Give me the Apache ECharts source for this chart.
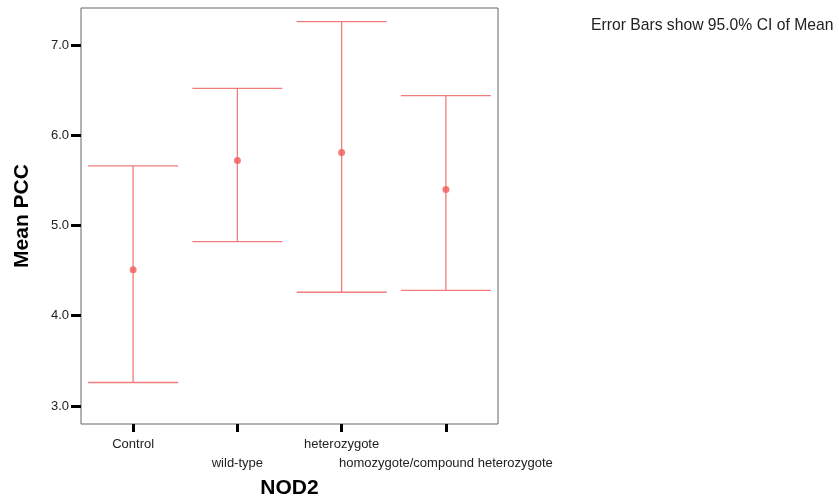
<!DOCTYPE html>
<html>
<head>
<meta charset="utf-8">
<script src="https://cdn.jsdelivr.net/npm/echarts@6/dist/echarts.min.js"></script>
<style>
  html, body { margin: 0; padding: 0; background: #fff; }
  #main { width: 839px; height: 502px; }
</style>
</head>
<body>
<div id="main"></div>
<script>
// groups of NOD2 genotype
var groups = ["Control", "wild-type", "heterozygote", "homozygote/compound heterozygote"];
// mean PCC and 95% CI bounds
var means = [4.51, 5.72, 5.81, 5.40];
var lower = [3.26, 4.82, 4.26, 4.28];
var upper = [5.66, 6.52, 7.26, 6.44];
var yTicks = [3.0, 4.0, 5.0, 6.0, 7.0];

var barColor = "#f07c7c";
var font = "Liberation Sans, Arial, sans-serif";
var chart = echarts.init(document.getElementById("main"));

var ciData = groups.map(function (g, i) { return [i, lower[i], upper[i]]; });
var meanData = groups.map(function (g, i) { return [i, means[i]]; });

var option = {
    animation: false,
    grid: {
        left: 81, right: 341, top: 8, bottom: 78,
        outerBoundsMode: "none",
        show: true, borderColor: "#666", borderWidth: 1
    },
    graphic: [{
        type: "text", left: 591, top: 18,
        style: { text: "Error Bars show 95.0% CI of Mean", fontSize: 15.7, fill: "#222", fontFamily: font }
    }],
    xAxis: {
        type: "category",
        data: groups,
        name: "NOD2",
        nameLocation: "middle",
        nameGap: 50,
        nameTextStyle: { fontSize: 21, fontWeight: "bold", color: "#000", fontFamily: font },
        axisLine: { show: false },
        axisTick: { show: true, alignWithLabel: true, length: 8, lineStyle: { color: "#000", width: 3 } },
        axisLabel: {
            interval: 0, margin: 11, fontSize: 13, color: "#222", lineHeight: 19,
            fontFamily: font,
            formatter: function (v, i) { return i % 2 ? "\n" + v : v; }
        },
        splitLine: { show: false }
    },
    yAxis: {
        type: "value",
        min: 2.8, max: 7.41,
        name: "Mean PCC",
        nameLocation: "middle",
        nameGap: 48,
        nameTextStyle: { fontSize: 21, fontWeight: "bold", color: "#000", fontFamily: font },
        axisLine: { show: false },
        axisTick: { show: true, length: 10, customValues: yTicks, lineStyle: { color: "#000", width: 3 } },
        axisLabel: {
            fontSize: 13, color: "#222", margin: 12,
            fontFamily: font,
            customValues: yTicks,
            formatter: function (v) { return v.toFixed(1); }
        },
        splitLine: { show: false }
    },
    series: [{
        type: "custom",
        data: ciData,
        renderItem: function (params, api) {
            var lo = api.coord([api.value(0), api.value(1)]);
            var hi = api.coord([api.value(0), api.value(2)]);
            var half = 45;
            var st = { stroke: barColor, lineWidth: 1.3 };
            return {
                type: "group",
                children: [
                    { type: "line", shape: { x1: hi[0], y1: hi[1], x2: lo[0], y2: lo[1] }, style: st },
                    { type: "line", shape: { x1: hi[0] - half, y1: hi[1], x2: hi[0] + half, y2: hi[1] }, style: st },
                    { type: "line", shape: { x1: lo[0] - half, y1: lo[1], x2: lo[0] + half, y2: lo[1] }, style: st }
                ]
            };
        },
        z: 2
    }, {
        type: "scatter",
        data: meanData,
        symbol: "circle",
        symbolSize: 7,
        itemStyle: { color: "#f25a5a" },
        z: 3
    }]
};
chart.setOption(option);
</script>
</body>
</html>
